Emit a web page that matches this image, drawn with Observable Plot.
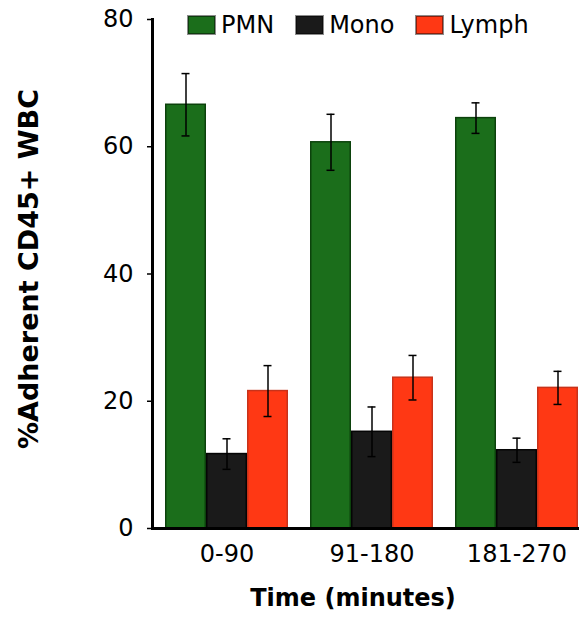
<!DOCTYPE html>
<html>
<head>
<meta charset="utf-8">
<script src="https://cdn.jsdelivr.net/npm/d3@7"></script>
<script src="https://cdn.jsdelivr.net/npm/@observablehq/plot@0.6"></script>
<style>
  html, body { margin: 0; padding: 0; background: #fff; }
  #wrap { position: relative; width: 579px; height: 625px; }
  #legend { position: absolute; left: 188px; top: 16px; }
  #legend > div { font: 24px "DejaVu Sans", sans-serif !important; min-height: 0 !important; margin: 0 !important; line-height: 18px; color: #000; }
  #legend span { margin-right: 22px !important; line-height: 18px; }
  #legend span > svg { margin-right: 6px !important; width: 27px; height: 18px; }
  #legend span > svg rect { stroke: rgba(0,0,0,0.45); stroke-width: 2px; }
</style>
</head>
<body>
<div id="wrap"><div id="legend"></div></div>
<script>
const groups = ["0-90", "91-180", "181-270"];
const series = ["PMN", "Mono", "Lymph"];
const pmn = [66.6, 60.7, 64.5];
const pmnErr = [4.9, 4.4, 2.4];
const mono = [11.7, 15.2, 12.3];
const monoErr = [2.4, 3.9, 1.9];
const lymph = [21.6, 23.7, 22.1];
const lymphErr = [4.0, 3.5, 2.6];
const yTicks = [0, 20, 40, 60, 80];
const fills = ["#1b6e1b", "#1a1a1a", "#ff3814"];
const strokes = ["#0c420c", "#050505", "#c8321a"];

const values = [pmn, mono, lymph];
const errs = [pmnErr, monoErr, lymphErr];
const data = groups.flatMap((g, i) => series.map((s, k) => ({group: g, series: s, value: values[k][i], err: errs[k][i]})));

const barW = 41;
const band = 3 * barW;
const marks = [];
series.forEach((s, k) => {
  const sub = data.filter(d => d.series === s);
  marks.push(Plot.barY(sub, {x: "group", y: "value", fill: "series", stroke: strokes[k], strokeWidth: 1.5,
    insetLeft: k * barW + 0.75, insetRight: (2 - k) * barW + 0.75}));
});
series.forEach((s, k) => {
  const sub = data.filter(d => d.series === s);
  const dx = (k - 1) * barW;
  marks.push(Plot.ruleX(sub, {x: "group", y1: d => d.value - d.err, y2: d => d.value + d.err, dx, stroke: "#000", strokeWidth: 1.5}));
  const capIn = band / 2 - 4;
  marks.push(Plot.tickY(sub, {x: "group", y: d => d.value + d.err, dx, insetLeft: capIn, insetRight: capIn, stroke: "#000", strokeWidth: 1.5}));
  marks.push(Plot.tickY(sub, {x: "group", y: d => d.value - d.err, dx, insetLeft: capIn, insetRight: capIn, stroke: "#000", strokeWidth: 1.5}));
});

const plot = Plot.plot({
  width: 579,
  height: 625,
  marginLeft: 152,
  marginRight: 0,
  marginTop: 19,
  marginBottom: 97,
  style: {fontFamily: "DejaVu Sans, sans-serif", fontSize: "24px", color: "#000", background: "transparent"},
  x: {domain: groups, paddingInner: 0.155, paddingOuter: 0.0447, align: 0.92, label: null},
  y: {domain: [0, 80], label: null},
  color: {domain: series, range: fills},
  marks: [
    ...marks,
    Plot.axisY({ticks: yTicks, tickSize: 5, tickPadding: 14, fontSize: 24, label: null, strokeWidth: 1.5}),
    Plot.axisX({tickSize: 0, tickPadding: 16, fontSize: 24, label: null}),
    Plot.frame({anchor: "left", strokeWidth: 3, stroke: "#000"}),
    Plot.ruleY([0], {strokeWidth: 3, stroke: "#000"}),
    Plot.text(["%Adherent CD45+ WBC"], {frameAnchor: "left", textAnchor: "middle", rotate: -90, dx: -123, dy: -5, fontSize: 27, fontWeight: "bold", fill: "#000"}),
    Plot.text(["Time (minutes)"], {frameAnchor: "bottom", dx: -13, dy: 77, fontSize: 24, fontWeight: "bold", fill: "#000"})
  ]
});
document.getElementById("wrap").prepend(plot);
const leg = plot.legend("color", {legend: "swatches", swatchWidth: 27, swatchHeight: 18});
document.getElementById("legend").appendChild(leg);
</script>
</body>
</html>
